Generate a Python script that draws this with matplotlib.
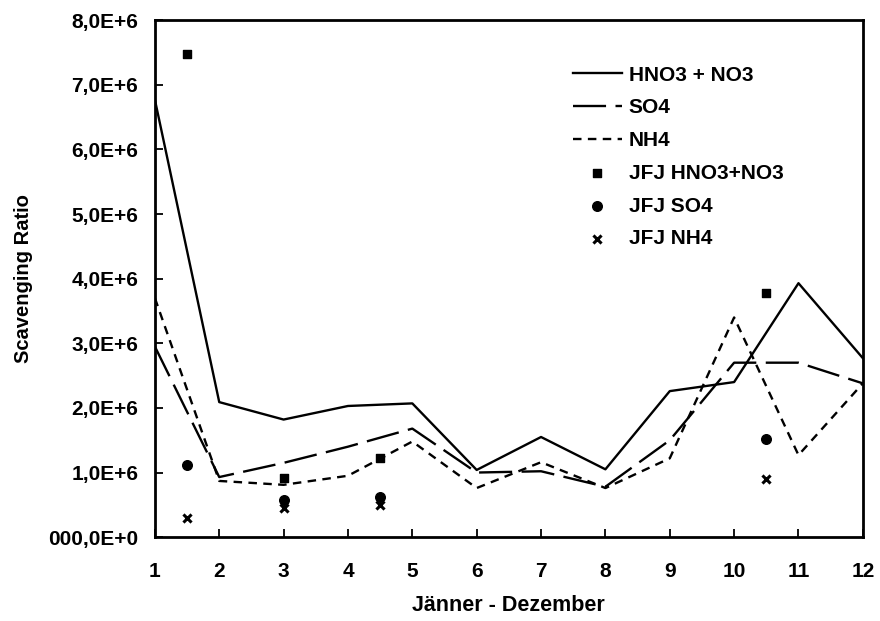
import matplotlib
matplotlib.use("Agg")
import matplotlib.pyplot as plt
from matplotlib.ticker import FuncFormatter

plt.rcParams["font.family"] = ["Liberation Sans", "DejaVu Sans"]
plt.rcParams["font.weight"] = "bold"

months = [1, 2, 3, 4, 5, 6, 7, 8, 9, 10, 11, 12]
hno3 = [6.77e6, 2.09e6, 1.82e6, 2.03e6, 2.07e6, 1.04e6, 1.55e6, 1.05e6, 2.26e6, 2.40e6, 3.93e6, 2.77e6]
so4 = [2.95e6, 0.93e6, 1.15e6, 1.40e6, 1.68e6, 1.00e6, 1.02e6, 0.78e6, 1.50e6, 2.70e6, 2.70e6, 2.38e6]
nh4 = [3.70e6, 0.87e6, 0.81e6, 0.95e6, 1.48e6, 0.76e6, 1.16e6, 0.76e6, 1.22e6, 3.40e6, 1.27e6, 2.38e6]

jfj_x = [1.5, 3, 4.5, 10.5]
jfj_hno3 = [7.48e6, 0.92e6, 1.22e6, 3.78e6]
jfj_so4 = [1.12e6, 0.57e6, 0.62e6, 1.52e6]
jfj_nh4 = [0.30e6, 0.45e6, 0.49e6, 0.90e6]

fig = plt.figure(figsize=(8.8, 6.21), dpi=100)
ax = fig.add_axes([0.176, 0.135, 0.8045, 0.8325])

ax.plot(months, hno3, color="black", lw=1.7, label="HNO3 + NO3")
ax.plot(months, so4, color="black", lw=1.7, dashes=(14, 4), label="SO4")
ax.plot(months, nh4, color="black", lw=1.7, dashes=(3.6, 2.7), label="NH4")
ax.scatter(jfj_x, jfj_hno3, marker="s", s=40, color="black", label="JFJ HNO3+NO3")
ax.scatter(jfj_x, jfj_so4, marker="o", s=48, color="black", label="JFJ SO4")
ax.scatter(jfj_x, jfj_nh4, marker="x", s=34, color="black", linewidths=2.2, label="JFJ NH4")

ax.set_xlim(1, 12)
ax.set_ylim(0, 8e6)
ax.set_xticks(months)
ax.set_yticks([i * 1e6 for i in range(9)])


def fmt(v, pos):
    if v == 0:
        return "000,0E+0"
    return f"{v / 1e6:.1f}".replace(".", ",") + "E+6"


ax.yaxis.set_major_formatter(FuncFormatter(fmt))
ax.tick_params(direction="in", length=6, width=1.3, labelsize=15)
ax.tick_params(axis="y", pad=12)
ax.tick_params(axis="x", pad=18)
for sp in ax.spines.values():
    sp.set_linewidth(2)

ax.set_xlabel("Jänner - Dezember", fontsize=15.5, fontweight="bold", labelpad=10)
ax.set_ylabel("Scavenging Ratio", fontsize=14.5, fontweight="bold", labelpad=11)

ax.legend(loc="upper left", bbox_to_anchor=(0.59, 0.912), frameon=False,
          borderpad=0, borderaxespad=0,
          fontsize=15, handlelength=2.35, handletextpad=0.35, labelspacing=0.66)

fig.savefig("out.png", dpi=100)
